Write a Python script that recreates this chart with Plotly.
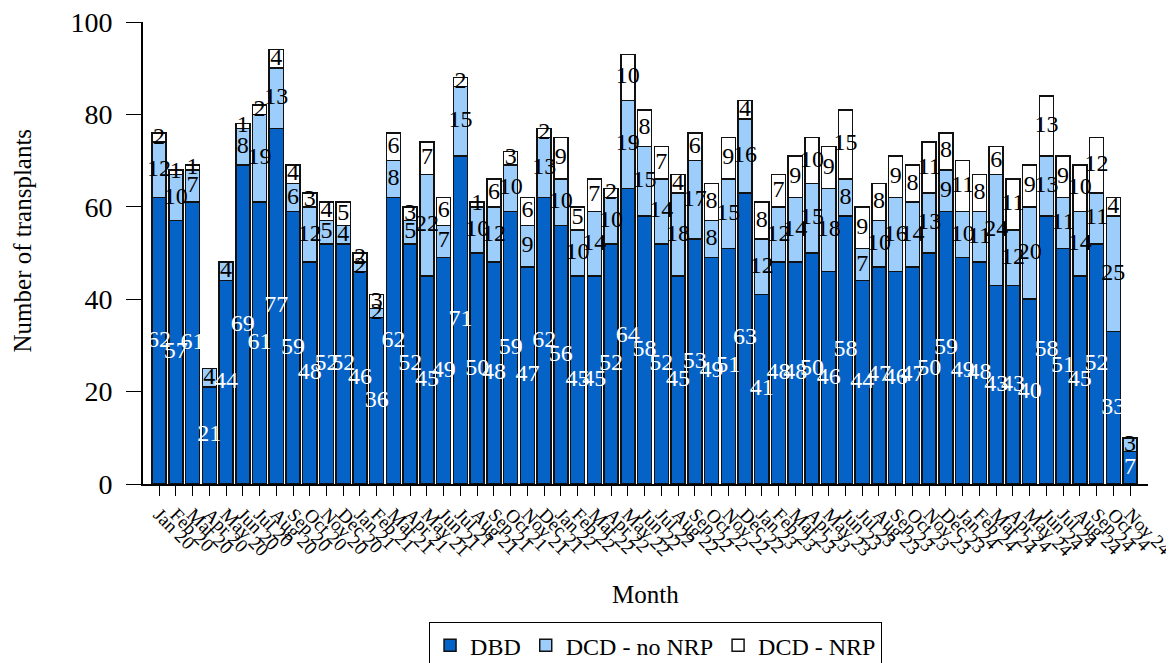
import plotly.graph_objects as go

months = [f"{m} {y}" for y in ["20", "21", "22", "23", "24"]
          for m in ["Jan", "Feb", "Mar", "Apr", "May", "Jun", "Jul", "Aug", "Sep", "Oct", "Nov", "Dec"]][:59]

dbd = [62, 57, 61, 21, 44, 69, 61, 77, 59, 48, 52, 52,
       46, 36, 62, 52, 45, 49, 71, 50, 48, 59, 47, 62,
       56, 45, 45, 52, 64, 58, 52, 45, 53, 49, 51, 63,
       41, 48, 48, 50, 46, 58, 44, 47, 46, 47, 50, 59,
       49, 48, 43, 43, 40, 58, 51, 45, 52, 33, 7]
dcd_no_nrp = [12, 10, 7, 4, 4, 8, 19, 13, 6, 12, 5, 4,
              2, 2, 8, 5, 22, 7, 15, 10, 12, 10, 9, 13,
              10, 10, 14, 10, 19, 15, 14, 18, 17, 8, 15, 16,
              12, 12, 14, 15, 18, 8, 7, 10, 16, 14, 13, 9,
              10, 11, 24, 12, 20, 13, 11, 14, 11, 25, 3]
dcd_nrp = [2, 1, 1, 0, 0, 1, 2, 4, 4, 3, 4, 5,
           2, 3, 6, 3, 7, 6, 2, 1, 6, 3, 6, 2,
           9, 5, 7, 2, 10, 8, 7, 4, 6, 8, 9, 4,
           8, 7, 9, 10, 9, 15, 9, 8, 9, 8, 11, 8,
           11, 8, 6, 11, 9, 13, 9, 10, 12, 4, 0]

series = [
    ("DBD", dbd, "#0563C8", "white"),
    ("DCD - no NRP", dcd_no_nrp, "#9DCDFB", "black"),
    ("DCD - NRP", dcd_nrp, "#FFFFFF", "black"),
]

FONT = "Liberation Serif, Times New Roman, serif"
x_idx = list(range(len(months)))
fig = go.Figure()
base = [0] * len(months)
label_traces = []
for name, vals, color, tcolor in series:
    fig.add_trace(go.Bar(
        x=x_idx, y=vals, name=name, width=0.84,
        marker=dict(color=color, line=dict(color="#111111", width=1.5)),
    ))
    xs, ys, ts = [], [], []
    for i, v in enumerate(vals):
        if v > 0:
            xs.append(i)
            ys.append(base[i] + v / 2)
            ts.append(str(v))
    label_traces.append(go.Scatter(
        x=xs, y=ys, text=ts, mode="text", showlegend=False, hoverinfo="skip",
        textfont=dict(family=FONT, size=24, color=tcolor), cliponaxis=False,
    ))
    base = [b + v for b, v in zip(base, vals)]

for t in label_traces:
    fig.add_trace(t)

fig.update_layout(
    barmode="stack",
    width=1174, height=663,
    margin=dict(l=135, r=34, t=14, b=187, autoexpand=False),
    paper_bgcolor="white", plot_bgcolor="white",
    font=dict(family=FONT, size=20, color="black"),
    showlegend=True,
    legend=dict(orientation="h", x=0.51, xanchor="center", y=-0.299, yanchor="top",
                bordercolor="black", borderwidth=1, font=dict(family=FONT, size=24),
                traceorder="normal"),
    annotations=[
        dict(text="Month", x=0.5, y=-0.240, xref="paper", yref="paper",
             xanchor="center", yanchor="middle", showarrow=False,
             font=dict(family=FONT, size=25)),
        dict(text="Number of transplants", x=-0.120, y=0.528, xref="paper", yref="paper",
             xanchor="center", yanchor="middle", textangle=-90, showarrow=False,
             font=dict(family=FONT, size=25)),
    ],
)
fig.update_xaxes(
    range=[-0.96, 59.07], tickmode="array", tickvals=x_idx, ticktext=months,
    tickangle=45, tickfont=dict(family=FONT, size=19), automargin=False,
    ticklabeloverflow="allow",
    showline=True, linecolor="black", linewidth=2, ticks="outside", ticklen=10,
    tickcolor="black", showgrid=False, zeroline=False,
)
fig.update_yaxes(
    range=[0, 100], tickvals=[0, 20, 40, 60, 80, 100], automargin=False,
    tickfont=dict(family=FONT, size=28), ticklabelstandoff=8,
    ticklabeloverflow="allow",
    showline=True, linecolor="black", linewidth=2, ticks="outside", ticklen=15,
    tickcolor="black", showgrid=False, zeroline=False,
)

fig.write_html("out.html")
